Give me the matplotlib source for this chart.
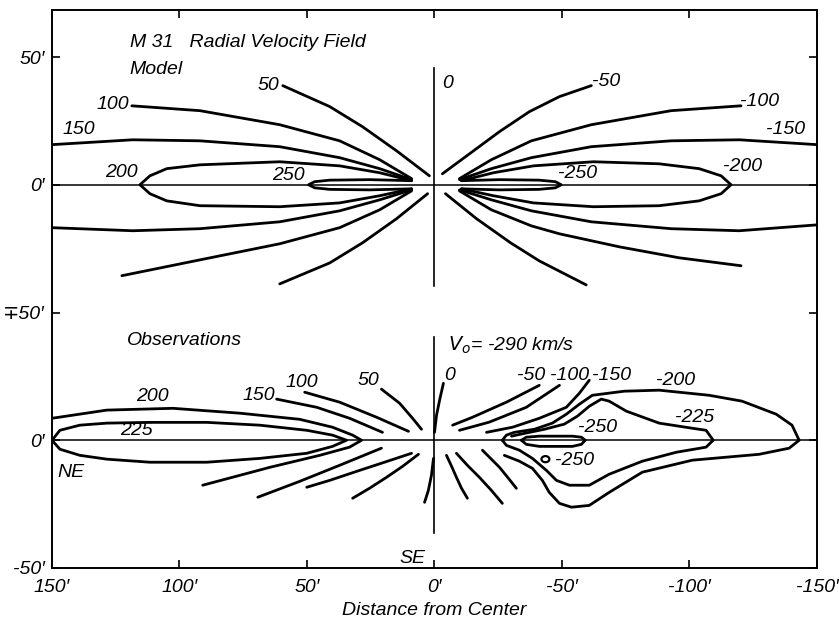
import matplotlib
matplotlib.use("Agg")
import matplotlib.pyplot as plt
from matplotlib.patches import Ellipse

FONT = ["Liberation Sans Narrow", "Liberation Sans", "DejaVu Sans"]
plt.rcParams.update({
    "font.family": FONT,
    "font.style": "italic",
    "font.size": 14,
    "mathtext.fontset": "custom",
    "mathtext.it": "Liberation Sans Narrow:italic",
    "mathtext.rm": "Liberation Sans Narrow:italic",
})

# ── data: contour tracings in arcmin (x = distance along major axis) ─────────
# model panel, y measured from the model's own major axis
model_50_up = [(59.5, 38.8), (41.1, 30.6), (28.2, 22.7), (14.9, 13.3), (2.0, 3.5)]
model_50_dn = [(60.7, -38.8), (41.1, -30.6), (28.2, -22.7), (14.9, -13.3), (2.7, -3.5)]
model_100_up = [(118.7, 30.9), (92.0, 29.0), (60.7, 23.5), (37.2, 17.2), (21.5, 9.8), (9.0, 2.4)]
model_100_dn = [(122.6, -35.6), (92.0, -29.4), (60.7, -23.1), (37.2, -16.8), (21.5, -9.8), (9.0, -2.4)]
model_150_up = [(150, 15.7), (118.3, 17.6), (92.0, 17.2), (60.7, 14.9), (37.2, 10.6), (21.5, 6.3), (9.0, 2.0)]
model_150_dn = [(150, -16.8), (118.3, -18.0), (92.0, -17.2), (60.7, -14.5), (37.2, -10.2), (21.5, -5.9), (9.0, -2.0)]
model_200 = [(9.0, 1.6), (21.5, 4.7), (37.2, 7.4), (60.7, 9.0), (92.0, 7.8), (105.0, 6.3),
             (111.6, 3.5), (115.5, 0), (111.6, -3.5), (105.0, -6.3), (92.0, -8.2),
             (60.7, -8.6), (37.2, -7.1), (21.5, -4.3), (9.0, -1.6)]
model_250 = [(9.0, 1.6), (25.5, 2.0), (41.1, 1.8), (47.0, 1.2), (49.4, 0), (47.0, -1.2),
             (41.1, -1.8), (25.5, -2.0), (9.0, -1.6)]
model_m50_up = [(-3.1, 4.3), (-13.7, 12.1), (-25.5, 20.8), (-37.2, 28.6), (-49.0, 34.5), (-61.5, 38.8)]
model_m50_dn = [(-4.3, -3.5), (-16.5, -13.3), (-29.8, -22.7), (-41.1, -29.8), (-59.5, -39.2)]
model_m100_up = [(-9.8, 2.4), (-22.3, 9.8), (-38.0, 17.2), (-61.5, 23.5), (-92.8, 29.0), (-120.2, 30.9)]
model_m100_dn = [(-9.8, -2.4), (-22.3, -9.8), (-38.0, -16.1), (-49.0, -19.2), (-72.5, -24.3),
                 (-96.0, -28.6), (-120.2, -31.7)]
model_m150_up = [(-9.8, 2.0), (-22.3, 6.3), (-38.0, 10.6), (-61.5, 14.9), (-92.8, 17.2), (-119.5, 17.6), (-150, 15.7)]
model_m150_dn = [(-9.8, -2.0), (-22.3, -5.9), (-38.0, -10.2), (-61.5, -14.5), (-92.8, -17.2), (-119.5, -18.0), (-150, -15.7)]
model_m200 = [(-10.6, 1.6), (-23.1, 4.7), (-38.8, 7.4), (-62.3, 9.0), (-88.1, 8.2), (-103.8, 6.3),
              (-112.4, 3.5), (-116.3, 0), (-112.4, -3.5), (-103.8, -6.3), (-88.1, -8.2),
              (-62.3, -8.6), (-38.8, -7.1), (-23.1, -4.3), (-10.6, -1.6)]
model_m250 = [(-10.6, 1.6), (-25.5, 2.0), (-41.1, 1.8), (-47.4, 1.2), (-49.7, 0), (-47.4, -1.2),
              (-41.1, -1.8), (-25.5, -2.0), (-10.6, -1.6)]
model_minor_axis = [(0, -39.6), (0, 45.8)]

model_label_text = ["100", "150", "200", "250", "50", "0", "-50", "-100", "-150", "-200", "-250"]
model_label_x = [126.1, 139.4, 122.6, 57.2, 65.0, -5.1, -67.4, -127.3, -137.5, -121.0, -56.0]
model_label_y = [31.3, 21.5, 4.7, 3.5, 38.8, 39.6, 40.3, 32.5, 21.5, 7.0, 4.3]

# observations panel
obs_200 = [(150, 8.6), (128.5, 11.8), (102.6, 12.5), (76.4, 10.6), (52.9, 8.2), (40.0, 5.1),
           (32.1, 2.0), (28.6, 0), (33.3, -2.7), (45.0, -5.9), (64.6, -10.6), (90.9, -17.6)]
obs_225 = [(150, 0), (146.9, 3.9), (139.1, 5.9), (128.5, 6.7), (111.6, 7.0), (89.3, 7.0),
           (68.5, 5.9), (50.1, 3.9), (40.0, 2.0), (34.5, 0), (40.0, -2.4), (50.1, -5.1),
           (68.5, -7.1), (89.3, -8.6), (111.6, -8.6), (128.5, -7.4), (139.1, -5.9),
           (146.9, -3.5), (150, 0)]
obs_150_up = [(61.9, 16.1), (46.2, 12.9), (33.3, 8.6), (20.4, 3.1)]
obs_150_dn = [(20.8, -3.1), (37.2, -9.8), (52.9, -16.1), (69.3, -22.3)]
obs_100_up = [(50.9, 18.8), (37.2, 14.9), (22.7, 9.0), (10.2, 3.5)]
obs_100_dn = [(9.0, -5.1), (19.6, -8.6), (29.4, -11.8), (41.1, -15.7), (50.1, -18.4)]
obs_50_up = [(20.8, 20.0), (13.7, 14.5), (8.6, 8.6), (5.1, 4.3)]
obs_50_dn = [(6.3, -5.5), (12.5, -10.2), (18.8, -14.5), (25.5, -18.8), (32.1, -22.7)]
obs_0_up = [(-3.5, 22.3), (-2.0, 15.7), (-0.8, 9.8), (0, 3.1)]
obs_0_dn = [(0.4, -7.1), (1.2, -13.7), (2.4, -19.6), (3.9, -24.3)]
obs_m50_up = [(-41.1, 21.5), (-28.2, 14.9), (-14.9, 9.0), (-7.1, 5.9)]
obs_m50_dn = [(-4.7, -5.9), (-6.7, -10.2), (-8.6, -14.5), (-10.6, -18.8), (-12.9, -22.7)]
obs_m100_up = [(-49.0, 21.5), (-36.0, 12.9), (-21.5, 7.1), (-9.8, 3.9)]
obs_m100_dn = [(-8.6, -5.1), (-12.9, -9.8), (-17.6, -14.5), (-22.3, -19.6), (-26.6, -24.7)]
obs_m150_up = [(-60.7, 23.5), (-56.8, 18.4), (-51.7, 12.9), (-41.1, 8.6), (-30.6, 5.1), (-20.4, 3.1)]
obs_m150_dn = [(-18.8, -3.9), (-22.3, -7.4), (-25.5, -10.6), (-29.0, -14.9), (-32.1, -18.8)]
obs_m200 = [(-27.4, -5.9), (-33.3, -8.2), (-38.4, -11.0), (-42.3, -15.7), (-45.0, -20.4),
            (-49.0, -24.7), (-53.7, -26.2), (-60.7, -25.5), (-68.5, -20.4), (-81.5, -12.5),
            (-101.1, -7.8), (-127.3, -5.5), (-139.1, -3.1), (-143.0, 0), (-140.2, 5.9),
            (-134.0, 10.2), (-120.6, 15.3), (-107.7, 17.6), (-88.1, 19.6), (-74.4, 19.2),
            (-61.9, 17.6), (-56.8, 14.1), (-51.7, 10.2), (-46.2, 6.7), (-39.2, 4.3),
            (-31.3, 3.1), (-28.2, 2.0), (-26.6, 0)]
obs_m225 = [(-26.6, 0), (-28.2, -2.0), (-33.3, -3.9), (-38.4, -7.1), (-43.9, -11.8),
            (-47.8, -15.7), (-52.9, -17.6), (-60.7, -17.6), (-68.5, -13.3), (-81.5, -8.2),
            (-94.8, -4.7), (-106.5, -2.7), (-109.3, 0), (-106.5, 3.9), (-101.1, 4.7),
            (-88.1, 6.7), (-75.2, 11.4), (-68.5, 15.3), (-65.4, 16.1), (-60.7, 13.3),
            (-56.0, 9.4), (-50.9, 6.3), (-43.1, 4.3), (-35.3, 2.7), (-30.2, 1.6)]
obs_m250 = [(-34.1, 0), (-36.0, 1.2), (-41.1, 1.6), (-54.1, 1.6), (-57.6, 1.2), (-59.1, 0),
            (-57.6, -1.6), (-54.1, -2.4), (-41.1, -2.4), (-36.0, -1.6), (-34.1, 0)]
obs_m250_spot = (-43.5, -7.4)       # tiny closed contour
obs_m250_spot_size = (3.1, 2.4)
obs_minor_axis = [(0, -36.4), (0, 40.3)]

obs_label_text = ["200", "225", "150", "100", "50", "0", "-50", "-100", "-150",
                  "-200", "-225", "-250", "-250"]
obs_label_x = [110.8, 116.7, 68.9, 52.1, 25.9, -5.9, -38.0, -52.9, -69.3, -94.4, -101.8, -63.8, -55.0]
obs_label_y = [17.2, 3.9, 17.6, 22.7, 23.5, 25.5, 25.5, 25.5, 25.5, 23.5, 9.0, 5.1, -7.8]

x_ticks = [150, 100, 50, 0, -50, -100, -150]
x_tick_labels = ["150′", "100′", "50′", "0′", "-50′", "-100′", "-150′"]
y_ticks = [-50, 0, 50, 100, 150]
y_tick_labels = ["-50′", "0′", "∓50′", "0′", "50′"]

MODEL_SHIFT = 100   # model panel stacked above the observations

model_curves = [model_50_up, model_50_dn, model_100_up, model_100_dn, model_150_up,
                model_150_dn, model_200, model_250, model_m50_up, model_m50_dn,
                model_m100_up, model_m100_dn, model_m150_up, model_m150_dn,
                model_m200, model_m250]
obs_curves = [obs_200, obs_225, obs_150_up, obs_150_dn, obs_100_up, obs_100_dn,
              obs_50_up, obs_50_dn, obs_0_up, obs_0_dn, obs_m50_up, obs_m50_dn,
              obs_m100_up, obs_m100_dn, obs_m150_up, obs_m150_dn, obs_m200,
              obs_m225, obs_m250]

fig = plt.figure(figsize=(8.39, 6.24), dpi=100)
ax = fig.add_axes([52 / 839, 1 - 568 / 624, 765 / 839, 558 / 624])
ax.set_xlim(150, -150)
ax.set_ylim(-50, 168.4)

LW = 2.0
line_kw = dict(color="black", lw=LW, solid_capstyle="round", solid_joinstyle="round")

for c in model_curves:
    xs, ys = zip(*c)
    ax.plot(xs, [y + MODEL_SHIFT for y in ys], **line_kw)
for c in obs_curves:
    xs, ys = zip(*c)
    ax.plot(xs, ys, **line_kw)

ax.add_patch(Ellipse(obs_m250_spot, obs_m250_spot_size[0], obs_m250_spot_size[1],
                     fill=False, lw=1.6, color="black"))

# major axes and minor axes
ax.axhline(0, color="black", lw=1.1)
ax.axhline(MODEL_SHIFT, color="black", lw=1.1)
xs, ys = zip(*model_minor_axis)
ax.plot(xs, [y + MODEL_SHIFT for y in ys], color="black", lw=1.2)
xs, ys = zip(*obs_minor_axis)
ax.plot(xs, ys, color="black", lw=1.2)

for t, x, y in zip(model_label_text, model_label_x, model_label_y):
    ax.text(x, y + MODEL_SHIFT, t, ha="center", va="center")
for t, x, y in zip(obs_label_text, obs_label_x, obs_label_y):
    ax.text(x, y, t, ha="center", va="center")

ax.text(119.5, 55.5 + MODEL_SHIFT, "M 31   Radial Velocity Field", ha="left", va="center")
ax.text(119.5, 45.0 + MODEL_SHIFT, "Model", ha="left", va="center")
ax.text(120.6, 39.2, "Observations", ha="left", va="center")
ax.text(-5.1, 37.2, r"$V_o$= -290 km/s", ha="left", va="center")
ax.text(147.8, -12.5, "NE", ha="left", va="center")
ax.text(8.6, -46.2, "SE", ha="center", va="center")

ax.set_xticks(x_ticks)
ax.set_xticklabels(x_tick_labels)
ax.set_yticks(y_ticks)
ax.set_yticklabels(y_tick_labels)
ax.tick_params(direction="in", length=6, width=1.2, top=True, right=True,
               labelsize=14, pad=5)
ax.tick_params(axis="x", pad=8)
for s in ax.spines.values():
    s.set_linewidth(1.4)
ax.set_xlabel("Distance from Center", fontsize=14, labelpad=4)

fig.savefig("out.png", dpi=100)
